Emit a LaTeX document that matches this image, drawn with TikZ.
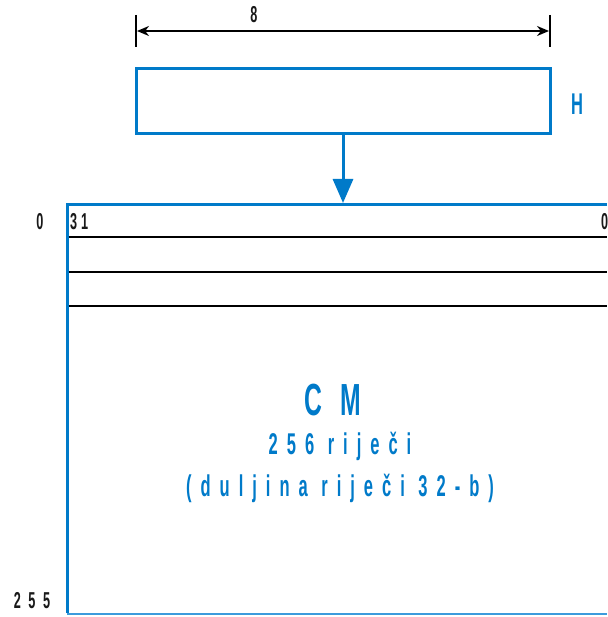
\documentclass[tikz,border=0pt]{standalone}
\usepackage{fontspec}
\setmainfont{Liberation Sans}
\newfontfamily\lab[FakeStretch=0.55]{Liberation Sans}
\newfontfamily\labsp[FakeStretch=0.55,LetterSpace=30]{Liberation Sans}
\newfontfamily\labcm[FakeStretch=0.55,LetterSpace=40]{Liberation Sans}
\usetikzlibrary{arrows.meta}
\definecolor{cmblue}{RGB}{0,122,201}
\definecolor{lblue}{RGB}{60,155,220}
\tikzset{
  bluebox/.style={draw=cmblue,line width=3pt},
  rowline/.style={draw=black,line width=2pt},
  smalllab/.style={font=\lab\bfseries\fontsize{23}{23}\selectfont,inner sep=0pt,text=black!90},
  bigtext/.style={font=\labsp\bfseries\fontsize{30}{30}\selectfont,text=cmblue,inner sep=0pt},
}
\begin{document}
\begin{tikzpicture}[x=1pt,y=-1pt]
\useasboundingbox (0,0) rectangle (607,617);
% register H
\node[bluebox,minimum width=414pt,minimum height=65pt,inner sep=0pt,anchor=north west] (H) at (135,67.5) {};
\node[font=\lab\bfseries\fontsize{30}{30}\selectfont,text=cmblue,inner sep=0pt] (Hlab) at (577,104) {H};
% dimension
\coordinate (dl) at (136,15);
\coordinate (dr) at (550,15);
\coordinate (dlb) at (136,47);
\coordinate (drb) at (550,47);
\draw[line width=1.4pt] (dl) -- (dlb);
\draw[line width=1.4pt] (dr) -- (drb);
\coordinate (al) at (137,31);
\coordinate (ar) at (549,31);
\draw[line width=2pt,{Stealth[length=12pt,width=10pt]}-{Stealth[length=12pt,width=10pt]}] (al) -- (ar);
\node[smalllab] (w8) at (254,15) {8};
% arrow H -> CM
\coordinate (cmtop) at (343,203);
\draw[draw=cmblue,line width=3pt,-{Triangle[length=24pt,width=20pt]},color=cmblue] (H.south -| cmtop) -- (cmtop);
% CM block
\coordinate (tl) at (67,204.5);
\coordinate (tr) at (607,204.5);
\coordinate (bl) at (67,614);
\coordinate (br) at (607,614);
\draw[draw=lblue,line width=1.2pt] (bl) -- (br);
\draw[draw=cmblue,line width=3pt] (tr) -- (tl) -- ([yshift=0.6pt]bl);
\coordinate (r1l) at (68.5,237); \coordinate (r1r) at (607,237);
\coordinate (r2l) at (68.5,271.5); \coordinate (r2r) at (607,271.5);
\coordinate (r3l) at (68.5,305.5); \coordinate (r3r) at (607,305.5);
\draw[rowline] (r1l) -- (r1r);
\draw[rowline] (r2l) -- (r2r);
\draw[rowline] (r3l) -- (r3r);
% labels
\node[smalllab] (a0) at (40,222) {0};
\node[smalllab,anchor=west] (b31) at (70,222) {3\,1};
\node[smalllab,anchor=west] (b0) at (601,222) {0};
\node[smalllab] (a255) at (32,601) {2\,\,5\,\,5};
% texts
\node[font=\labcm\bfseries\fontsize{45}{45}\selectfont,text=cmblue,inner sep=0pt] (cm) at (333,400) {CM};
\node[bigtext] (w256) at (340,446) {256 riječi};
\node[bigtext] (dul) at (340,488) {(duljina riječi 32-b)};
\end{tikzpicture}
\end{document}
